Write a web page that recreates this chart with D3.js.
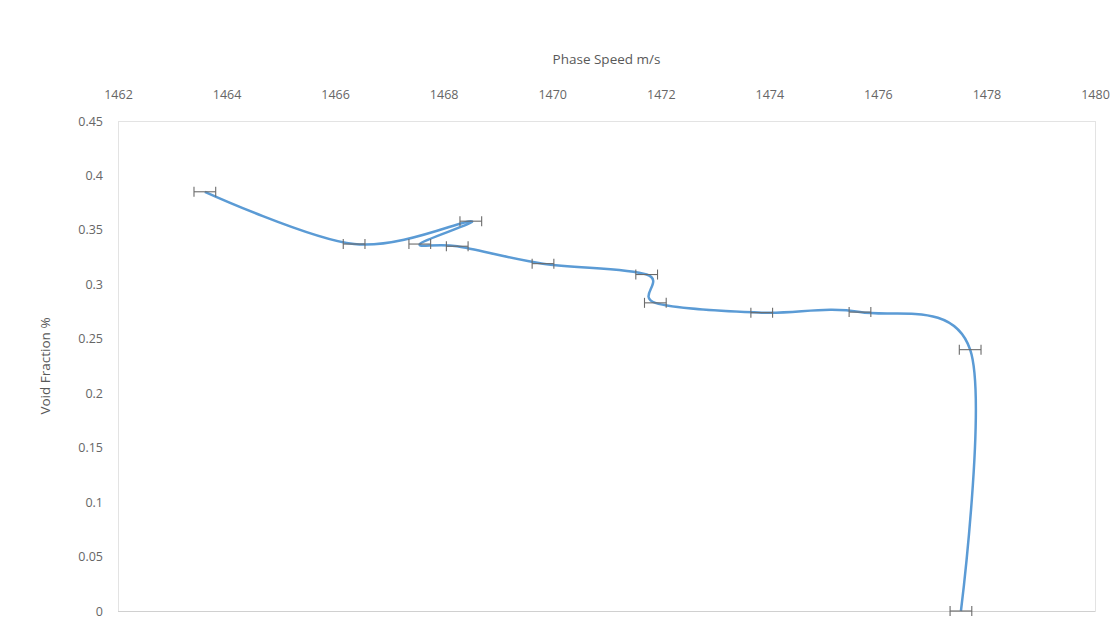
<!DOCTYPE html>
<html><head><meta charset="utf-8">
<script src="https://cdn.jsdelivr.net/npm/d3@7"></script>
<style>body{margin:0;background:#fff;}svg{display:block;font-family:"Open Sans","Noto Sans",sans-serif;}</style>
</head><body>
<svg id="c" width="1118" height="630"></svg>
<script>
const phaseSpeed   = [1463.6, 1466.35, 1468.5, 1467.56, 1468.25, 1469.83, 1471.74, 1471.9, 1473.86, 1475.67, 1477.7, 1477.53];
const voidFraction = [0.385, 0.337, 0.358, 0.337, 0.335, 0.319, 0.309, 0.283, 0.274, 0.2745, 0.240, 0.0];
const speedError   = [0.2, 0.2, 0.2, 0.2, 0.2, 0.2, 0.2, 0.2, 0.2, 0.2, 0.2, 0.2];
const xTicks = [1462,1464,1466,1468,1470,1472,1474,1476,1478,1480];
const yTicks = [0,0.05,0.1,0.15,0.2,0.25,0.3,0.35,0.4,0.45];

const svg = d3.select("#c");
const L=118, R=1095, T=121, B=611;
const x = d3.scaleLinear().domain([1462,1480]).range([L,R]);
const y = d3.scaleLinear().domain([0,0.45]).range([B,T]);
const FONT = '"Open Sans","Noto Sans",sans-serif';

// plot area border
svg.append("rect").attr("x",L+0.5).attr("y",T+0.5).attr("width",R-L).attr("height",B-T)
  .attr("fill","none").attr("stroke","#e3e3e3").attr("stroke-width",1);
svg.append("line").attr("x1",L).attr("x2",R).attr("y1",B+0.5).attr("y2",B+0.5)
  .attr("stroke","#d0d0d0");

// top axis labels
const xa = d3.axisTop(x).tickValues(xTicks).tickSize(0).tickPadding(0).tickFormat(d3.format("d"));
const gx = svg.append("g").attr("transform",`translate(0,${T-22})`).call(xa)
  .attr("font-family",FONT);
gx.select(".domain").remove();
gx.selectAll("text").attr("fill","#666").attr("font-size",12.5);

const ya = d3.axisLeft(y).tickValues(yTicks).tickSize(0).tickPadding(0).tickFormat(d=>d3.format("")(+d.toFixed(2)));
const gy = svg.append("g").attr("transform",`translate(${L-15},0)`).call(ya)
  .attr("font-family",FONT);
gy.select(".domain").remove();
gy.selectAll("text").attr("fill","#666").attr("font-size",12.5);

svg.append("text").attr("x",(L+R)/2).attr("y",64).attr("text-anchor","middle")
  .attr("fill","#595959").attr("font-size",13.5).text("Phase Speed m/s");
svg.append("text").attr("transform",`translate(50,${(T+B)/2}) rotate(-90)`).attr("text-anchor","middle")
  .attr("fill","#595959").attr("font-size",13.5).text("Void Fraction %");

const pts = phaseSpeed.map((v,i)=>({x:v,y:voidFraction[i],e:speedError[i]}));

// line
const line = d3.line().x(d=>x(d.x)).y(d=>y(d.y)).curve(d3.curveCardinal.tension(0));
svg.append("path").datum(pts).attr("d",line).attr("fill","none")
  .attr("stroke","#5B9BD5").attr("stroke-width",2.5).attr("stroke-linejoin","round");

// error bars
const eb = svg.append("g").attr("stroke","#6b6b6b").attr("stroke-width",1.1);
pts.forEach(d=>{
  const yy=y(d.y);
  eb.append("line").attr("x1",x(d.x-d.e)).attr("x2",x(d.x+d.e)).attr("y1",yy).attr("y2",yy);
  [d.x-d.e,d.x+d.e].forEach(v=>{
    eb.append("line").attr("x1",x(v)).attr("x2",x(v)).attr("y1",yy-5).attr("y2",yy+5);
  });
});
</script>
</body></html>
